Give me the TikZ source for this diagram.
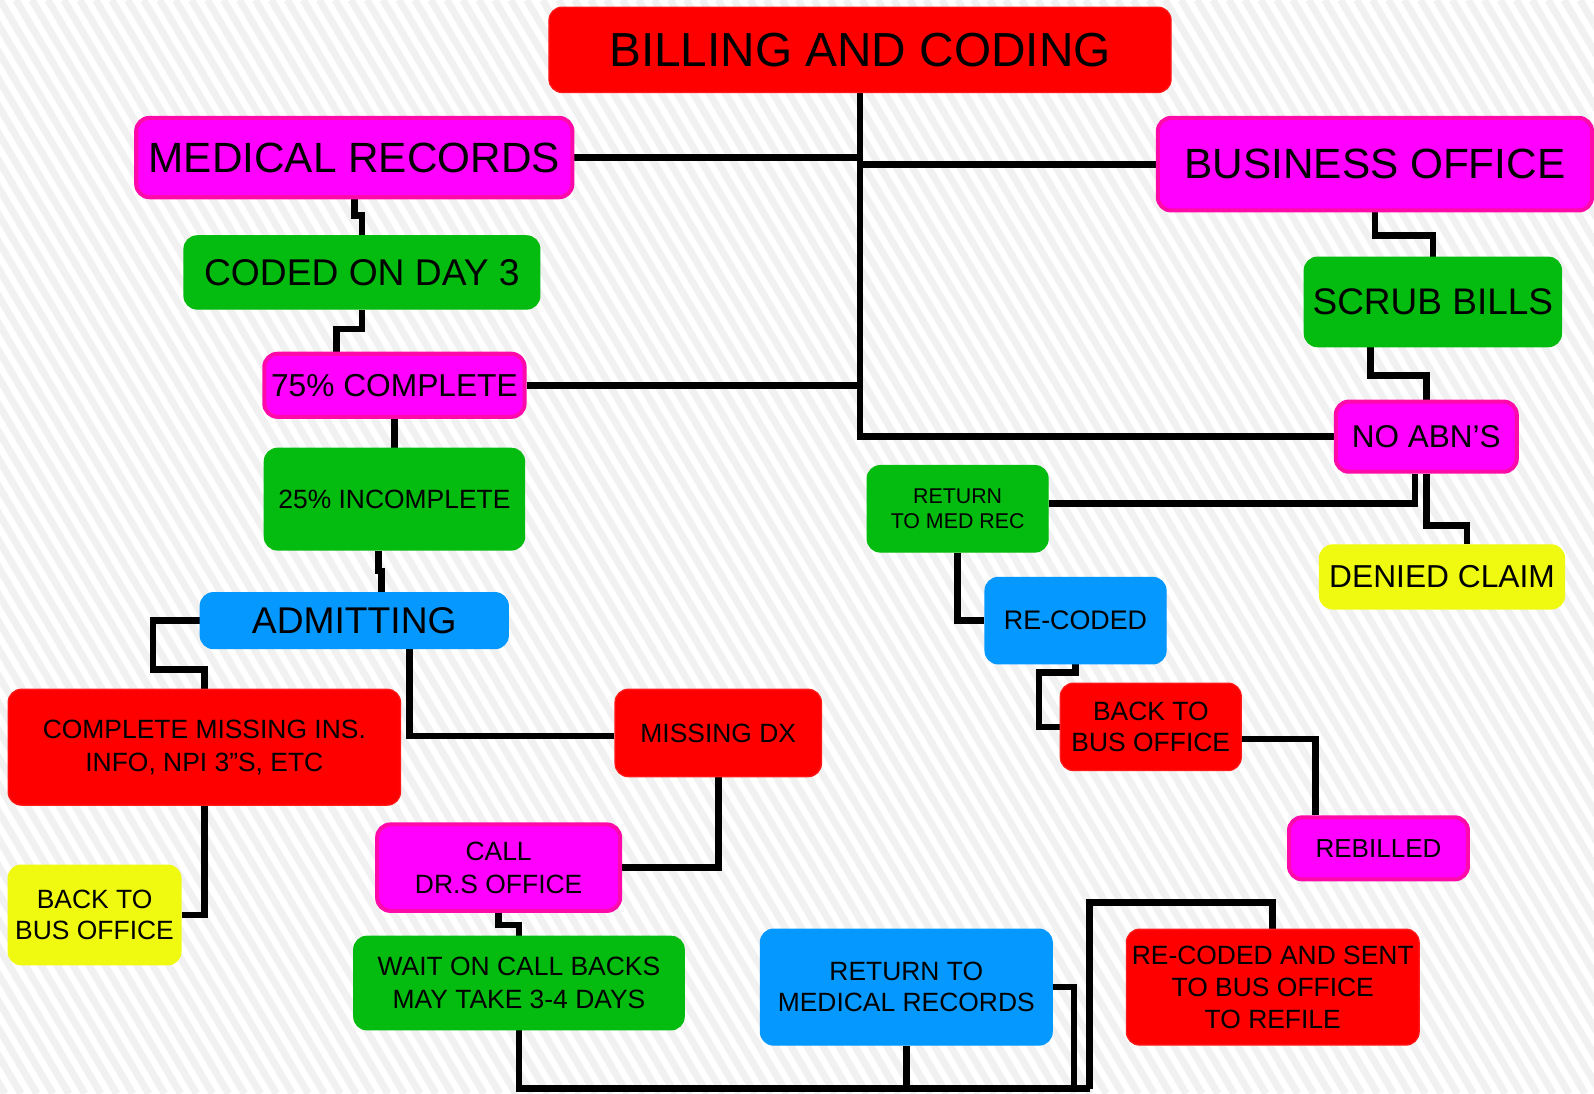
\documentclass[tikz,border=0pt]{standalone}
\usepackage{fontspec}
\setmainfont{Liberation Sans}
\usetikzlibrary{calc}
\pgfdeclarelayer{bg}
\pgfdeclarelayer{lines}
\pgfsetlayers{bg,lines,main}
\definecolor{cred}{HTML}{FF0000}
\definecolor{credb}{HTML}{FF1A1A}
\definecolor{cmag}{HTML}{FF00FF}
\definecolor{cmagb}{HTML}{FF0AAA}
\definecolor{cgreen}{HTML}{04BB10}
\definecolor{cblue}{HTML}{0599FF}
\definecolor{cyel}{HTML}{F0FA10}
\definecolor{stripe}{HTML}{F1F1F1}
\begin{document}
\begin{tikzpicture}[x=0.5pt,y=-0.5pt,
  bx/.style={rounded corners=6.5pt, inner sep=0pt, align=center, text=black},
  redbx/.style={bx, fill=cred, draw=credb, line width=0.6pt},
  magbx/.style={bx, fill=cmag, draw=cmagb, line width=2pt},
  greenbx/.style={bx, fill=cgreen, draw=cgreen, line width=0.6pt},
  bluebx/.style={bx, fill=cblue, draw=cblue, line width=0.6pt},
  yelbx/.style={bx, fill=cyel, draw=cyel, line width=0.6pt},
  spot/.style args={#1/#2/#3/#4}{at={({(#1+#3)/2},{(#2+#4)/2})},
     minimum width={(#3-#1)*0.5pt}, minimum height={(#4-#2)*0.5pt}},
  wire/.style={line width=3.3pt, line join=miter, draw=black}
]
% background
\begin{pgfonlayer}{bg}
  \fill[white] (0,0) rectangle (1568,1076);
  \begin{scope}
    \clip (0,0) rectangle (1568,1076);
    \foreach \i in {-41,...,100} {
      \draw[stripe, line width=3.5pt] (\i*15.7,0) -- ++(633,1076);
    }
  \end{scope}
\end{pgfonlayer}
\useasboundingbox (0,0) rectangle (1568,1076);

% nodes
\node[redbx, spot=540/7/1152/91, font=\fontsize{23.5}{28}\selectfont] (title) {BILLING AND CODING};
\node[magbx, spot=134/116/563/194, font=\fontsize{20.8}{25}\selectfont] (medrec) {MEDICAL RECORDS};
\node[magbx, spot=1139/116/1566/207, font=\fontsize{20.8}{25}\selectfont] (bizoff) {BUSINESS OFFICE};
\node[greenbx, spot=181/232/531/304, font=\fontsize{18.3}{22}\selectfont] (coded) {CODED ON DAY 3};
\node[greenbx, spot=1283/253/1536/341, font=\fontsize{18.2}{22}\selectfont] (scrub) {SCRUB BILLS};
\node[magbx, spot=260/348/516/410, font=\fontsize{15.6}{19}\selectfont] (c75) {75\% COMPLETE};
\node[magbx, spot=1314/395/1492/464, font=\fontsize{15.5}{19}\selectfont] (noabn) {NO ABN’S};
\node[greenbx, spot=260/441/516/541, font=\fontsize{13}{16}\selectfont] (inc25) {25\% INCOMPLETE};
\node[greenbx, spot=853/458/1031/543, font=\fontsize{10.5}{12}\selectfont] (retmed) {RETURN\\TO MED REC};
\node[yelbx, spot=1298/536/1539/599, font=\fontsize{15.6}{19}\selectfont] (denied) {DENIED CLAIM};
\node[bluebx, spot=197/583/500/638, font=\fontsize{18.3}{22}\selectfont] (admit) {ADMITTING};
\node[bluebx, spot=969/568/1147/653, font=\fontsize{13.2}{16}\selectfont] (recoded) {RE-CODED};
\node[redbx, spot=8/678/394/792, font=\fontsize{13}{16}\selectfont] (complete) {COMPLETE MISSING INS.\\INFO, NPI 3”S, ETC};
\node[redbx, spot=605/678/808/764, font=\fontsize{13}{16}\selectfont] (missingdx) {MISSING DX};
\node[redbx, spot=1043/672/1221/758, font=\fontsize{13}{15.5}\selectfont] (backbus2) {BACK TO\\BUS OFFICE};
\node[magbx, spot=1268/804/1444/865, font=\fontsize{12.8}{16}\selectfont] (rebilled) {REBILLED};
\node[magbx, spot=371/811/610/896, font=\fontsize{13}{16}\selectfont] (calldr) {CALL\\DR.S OFFICE};
\node[yelbx, spot=8/851/178/949, font=\fontsize{13}{15.5}\selectfont] (backbus1) {BACK TO\\BUS OFFICE};
\node[greenbx, spot=348/921/673/1013, font=\fontsize{13}{16}\selectfont] (wait) {WAIT ON CALL BACKS\\MAY TAKE 3-4 DAYS};
\node[bluebx, spot=748/914/1035/1028, font=\fontsize{13}{15.5}\selectfont] (retmedrec) {RETURN TO\\MEDICAL RECORDS};
\node[redbx, spot=1108/914/1396/1028, font=\fontsize{13}{15.8}\selectfont] (recsent) {RE-CODED AND SENT\\TO BUS OFFICE\\TO REFILE};
\coordinate (bot) at (1072,1071);

% connectors
\begin{pgfonlayer}{lines}
\draw[wire] (title.south) |- (noabn.west);
\draw[wire] (medrec.east) -- (medrec.east -| title.south);
\draw[wire] (bizoff.west) -- (bizoff.west -| title.south);
\draw[wire] (c75.east) -- (c75.east -| title.south);
\draw[wire] (medrec.south) -- ++(0,16) -| (coded.north);
\draw[wire] (coded.south) -- ++(0,19) -| ([xshift=-28.5pt]c75.north);
\draw[wire] (c75.south) -- (inc25.north);
\draw[wire] ([xshift=-8pt]inc25.south) -- ++(0,20) -| ([xshift=13.25pt]admit.north);
\draw[wire] (admit.west) -| ++(-46,48) -| (complete.north);
\draw[wire] ([xshift=27.25pt]admit.south) |- ([yshift=-1.5pt]missingdx.west);
\draw[wire] (missingdx.south) |- (calldr.east);
\draw[wire] (complete.south) |- (backbus1.east);
\draw[wire] (calldr.south) -- ++(0,12) -| (wait.north);
\draw[wire] (wait.south) |- (bot);
\draw[wire] (retmedrec.south) -- (retmedrec.south |- bot);
\draw[wire] (retmedrec.east) -- ++(21,0) |- (bot);
\draw[wire] (bot) -- ++(0,-183) -| (recsent.north);
\draw[wire] (bizoff.south) -- ++(0,23) -| (scrub.north);
\draw[wire] ([xshift=-30.75pt]scrub.south) -- ++(0,28) -| (noabn.north);
\draw[wire] ([xshift=-5.5pt]noabn.south) |- ([yshift=2.75pt]retmed.east);
\draw[wire] (noabn.south) -- ++(0,51) -| ([xshift=12.25pt]denied.north);
\draw[wire] (retmed.south) |- (recoded.west);
\draw[wire] (recoded.south) -- ++(0,8) -- ++(-36,0) |- (backbus2.west);
\draw[wire] ([yshift=-6pt]backbus2.east) -| ([xshift=-31pt]rebilled.north);
\end{pgfonlayer}
\end{tikzpicture}
\end{document}
